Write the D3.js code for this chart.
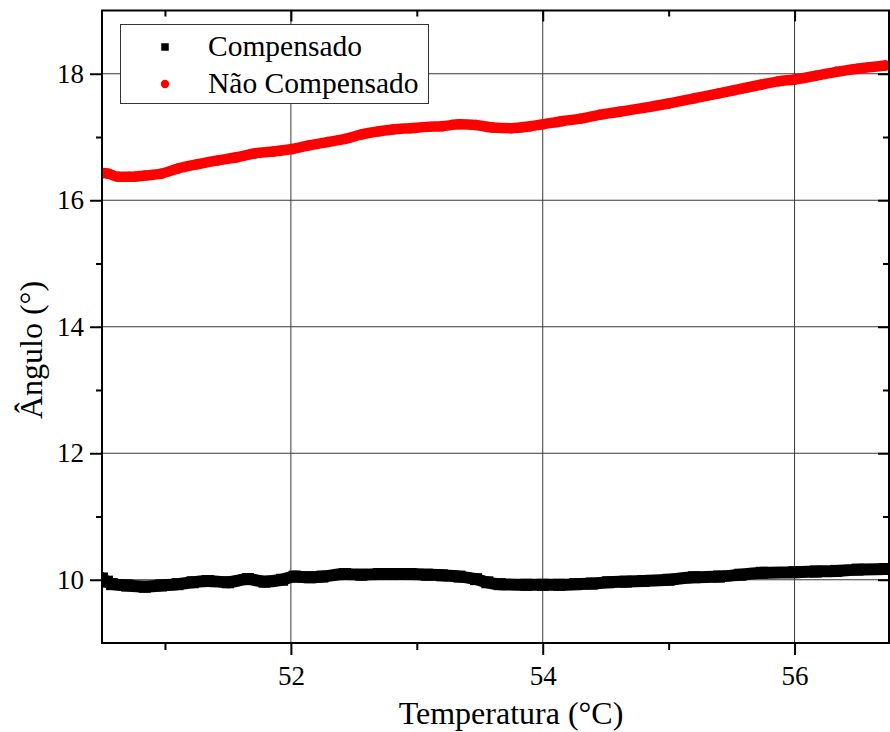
<!DOCTYPE html>
<html>
<head>
<meta charset="utf-8">
<script src="https://cdn.jsdelivr.net/npm/d3@7/dist/d3.min.js"></script>
<style>
  html, body { margin: 0; padding: 0; background: #fff; }
  svg { display: block; }
  svg text { font-family: "Liberation Serif", serif; fill: #000; }
</style>
</head>
<body>
<svg id="chart" width="890" height="732" font-family="Liberation Serif, serif"></svg>
<script>
// Temperature (°C) and angle (°) readings for each series
const compTemp = [50.50, 50.54, 50.58, 50.70, 50.84, 50.97, 51.10, 51.22, 51.34, 51.50,
  51.66, 51.79, 51.93, 52.03, 52.15, 52.25, 52.43, 52.56, 52.70, 52.81, 52.95, 53.08,
  53.20, 53.34, 53.47, 53.56, 53.66, 53.87, 54.00, 54.13, 54.26, 54.39, 54.52, 54.66,
  54.80, 55.00, 55.20, 55.40, 55.57, 55.74, 56.00, 56.17, 56.33, 56.50, 56.72];
const compAngle = [10.02, 9.97, 9.93, 9.91, 9.89, 9.91, 9.93, 9.96, 9.98, 9.96,
  10.01, 9.97, 10.00, 10.05, 10.04, 10.05, 10.09, 10.08, 10.09, 10.09, 10.09, 10.08,
  10.07, 10.05, 10.01, 9.96, 9.93, 9.92, 9.92, 9.92, 9.93, 9.94, 9.96, 9.97,
  9.98, 10.00, 10.04, 10.05, 10.08, 10.11, 10.12, 10.13, 10.14, 10.16, 10.17];

const naoTemp = [50.50, 50.55, 50.63, 50.72, 50.84, 50.97, 51.10, 51.26, 51.42, 51.57,
  51.71, 51.86, 52.01, 52.15, 52.29, 52.43, 52.56, 52.70, 52.81, 52.95, 53.08, 53.20,
  53.34, 53.47, 53.60, 53.75, 53.90, 54.00, 54.15, 54.30, 54.45, 54.61, 54.80, 55.00,
  55.20, 55.40, 55.57, 55.74, 55.87, 56.00, 56.17, 56.33, 56.50, 56.72];
const naoAngle = [16.43, 16.42, 16.37, 16.37, 16.39, 16.42, 16.50, 16.57, 16.63, 16.68,
  16.74, 16.77, 16.81, 16.87, 16.92, 16.97, 17.04, 17.09, 17.12, 17.14, 17.16, 17.17,
  17.20, 17.19, 17.15, 17.14, 17.17, 17.20, 17.25, 17.29, 17.35, 17.40, 17.46, 17.53,
  17.61, 17.69, 17.76, 17.83, 17.88, 17.91, 17.97, 18.03, 18.08, 18.13];

const xMajorTicks = [52, 54, 56];
const xMinorTicks = [51, 53, 55];
const yMajorTicks = [10, 12, 14, 16, 18];
const yMinorTicks = [11, 13, 15, 17];

const seriesNames = ["Compensado", "Não Compensado"];
const xTitle = "Temperatura (°C)";
const yTitle = "Ângulo (°)";

// Layout
const FONT = '"Liberation Serif", serif';
const plot = { left: 102, top: 10.5, right: 889, bottom: 643 };

const svg = d3.select("#chart");

const x = d3.scaleLinear().domain([50.5, 56.75]).range([plot.left, plot.right]);
const y = d3.scaleLinear().domain([9, 19]).range([plot.bottom, plot.top]);

// Grid lines at major ticks
const grid = svg.append("g").attr("class", "grid");
grid.selectAll("line.gx").data(xMajorTicks).join("line")
  .attr("class", "gx")
  .attr("x1", d => x(d)).attr("x2", d => x(d))
  .attr("y1", plot.top).attr("y2", plot.bottom)
  .attr("stroke", "#3a3a3a").attr("stroke-width", 1);
grid.selectAll("line.gy").data(yMajorTicks).join("line")
  .attr("class", "gy")
  .attr("x1", plot.left).attr("x2", plot.right)
  .attr("y1", d => y(d)).attr("y2", d => y(d))
  .attr("stroke", "#3a3a3a").attr("stroke-width", 1);

// Data
svg.append("defs").append("clipPath").attr("id", "plotClip")
  .append("rect")
  .attr("x", plot.left).attr("y", plot.top)
  .attr("width", plot.right - plot.left).attr("height", plot.bottom - plot.top);

const dataG = svg.append("g").attr("clip-path", "url(#plotClip)");

const compData = compTemp.map((t, i) => ({ t, a: compAngle[i] }));
const naoData = naoTemp.map((t, i) => ({ t, a: naoAngle[i] }));

const line = d3.line().x(d => x(d.t)).y(d => y(d.a)).curve(d3.curveMonotoneX);

// Compensado: dense black squares
dataG.append("path").datum(compData)
  .attr("d", line).attr("fill", "none")
  .attr("stroke", "#000").attr("stroke-width", 12)
  .attr("stroke-linejoin", "round").attr("stroke-linecap", "square");
const sq = 12;
dataG.selectAll("rect.comp").data(compData).join("rect")
  .attr("class", "comp")
  .attr("x", d => x(d.t) - sq / 2).attr("y", d => y(d.a) - sq / 2)
  .attr("width", sq).attr("height", sq).attr("fill", "#000");

// Não Compensado: dense red circles
dataG.append("path").datum(naoData)
  .attr("d", line).attr("fill", "none")
  .attr("stroke", "#ff0000").attr("stroke-width", 10.5)
  .attr("stroke-linejoin", "round").attr("stroke-linecap", "round");
dataG.selectAll("circle.nao").data(naoData).join("circle")
  .attr("class", "nao")
  .attr("cx", d => x(d.t)).attr("cy", d => y(d.a))
  .attr("r", 5.25).attr("fill", "#ff0000");

// Axes
const tickFont = 27;

function styleAxis(g) {
  g.attr("font-family", FONT).attr("font-size", tickFont);
  g.select(".domain").remove();
  g.selectAll(".tick line").attr("stroke", "#000").attr("stroke-width", 2);
  g.selectAll(".tick text")
    .attr("font-family", FONT)
    .style("font-family", FONT)
    .style("font-size", tickFont + "px").attr("fill", "#000");
}

// Bottom
svg.append("g").attr("transform", `translate(0,${plot.bottom})`)
  .call(d3.axisBottom(x).tickValues(xMajorTicks).tickSize(12).tickPadding(11).tickFormat(d3.format("d")))
  .call(styleAxis);
svg.append("g").attr("transform", `translate(0,${plot.bottom})`)
  .call(d3.axisBottom(x).tickValues(xMinorTicks).tickSize(7).tickFormat(""))
  .call(styleAxis);

// Top (mirror, inward ticks)
svg.append("g").attr("transform", `translate(0,${plot.top})`)
  .call(d3.axisBottom(x).tickValues(xMajorTicks).tickSize(11).tickFormat(""))
  .call(styleAxis);
svg.append("g").attr("transform", `translate(0,${plot.top})`)
  .call(d3.axisBottom(x).tickValues(xMinorTicks).tickSize(6).tickFormat(""))
  .call(styleAxis);

// Left
svg.append("g").attr("transform", `translate(${plot.left},0)`)
  .call(d3.axisLeft(y).tickValues(yMajorTicks).tickSize(12).tickPadding(6).tickFormat(d3.format("d")))
  .call(styleAxis);
svg.append("g").attr("transform", `translate(${plot.left},0)`)
  .call(d3.axisLeft(y).tickValues(yMinorTicks).tickSize(6).tickFormat(""))
  .call(styleAxis);

// Right (mirror, inward ticks)
svg.append("g").attr("transform", `translate(${plot.right},0)`)
  .call(d3.axisLeft(y).tickValues(yMajorTicks).tickSize(11).tickFormat(""))
  .call(styleAxis);
svg.append("g").attr("transform", `translate(${plot.right},0)`)
  .call(d3.axisLeft(y).tickValues(yMinorTicks).tickSize(6).tickFormat(""))
  .call(styleAxis);

// Frame
svg.append("rect")
  .attr("x", plot.left).attr("y", plot.top)
  .attr("width", plot.right - plot.left).attr("height", plot.bottom - plot.top)
  .attr("fill", "none").attr("stroke", "#000").attr("stroke-width", 2);

// Axis titles
svg.append("text")
  .attr("x", 511).attr("y", 724)
  .attr("text-anchor", "middle")
  .style("font-family", FONT)
  .style("font-size", "32px")
  .text(xTitle);

svg.append("text")
  .attr("transform", `translate(42,350) rotate(-90)`)
  .attr("text-anchor", "middle")
  .style("font-family", FONT)
  .style("font-size", "32px")
  .text(yTitle);

// Legend
const legend = svg.append("g");
legend.append("rect")
  .attr("x", 120.5).attr("y", 24.5).attr("width", 308).attr("height", 79)
  .attr("fill", "#fff").attr("stroke", "#333").attr("stroke-width", 1);
legend.append("rect")
  .attr("x", 165 - 3.75).attr("y", 47 - 3.75).attr("width", 7.5).attr("height", 7.5)
  .attr("fill", "#000");
legend.append("circle")
  .attr("cx", 165).attr("cy", 84).attr("r", 4.2).attr("fill", "#ff0000");
legend.selectAll("text.leg").data(seriesNames).join("text")
  .attr("class", "leg")
  .attr("x", 208).attr("y", (d, i) => 56 + i * 37)
  .style("font-family", FONT)
  .style("font-size", "29.5px")
  .text(d => d);
</script>
</body>
</html>
